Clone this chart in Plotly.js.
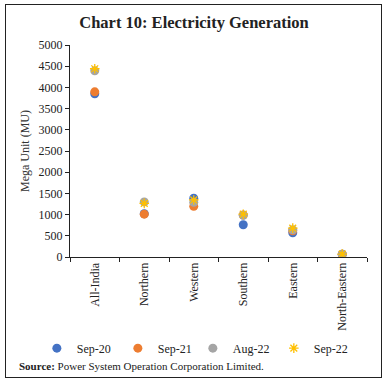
<!DOCTYPE html>
<html><head><meta charset="utf-8">
<script src="https://cdn.plot.ly/plotly-3.0.1.min.js"></script>
<style>
html,body{margin:0;padding:0;background:#fff;}
#wrap{position:relative;width:388px;height:386px;}
#chart{width:388px;height:386px;}
#frame{position:absolute;left:5px;top:4px;width:375px;height:372px;border:1.5px solid #222;pointer-events:none;}
</style></head>
<body>
<div id="wrap"><div id="chart"></div><div id="frame"></div></div>
<script>
const categories = ["All-India","Northern","Western","Southern","Eastern","North-Eastern"];
const sep20 = [3850, 1020, 1385, 760, 570, 62];
const sep21 = [3895, 1010, 1195, 990, 620, 64];
const aug22 = [4390, 1300, 1290, 985, 640, 66];
const sep22 = [4440, 1265, 1345, 1010, 680, 68];
const yTicks = [0,500,1000,1500,2000,2500,3000,3500,4000,4500,5000];

const F = "Liberation Serif, Times New Roman, serif";
function tr(name, y, color, symbol, legend){
  const t = {type:'scatter', mode:'markers', name:name, x:categories, y:y, legend:legend,
    marker:{color:color, size:9, symbol:symbol}};
  if (symbol === 'asterisk-open') { t.marker.size = 8; t.marker.line = {color:color, width:1.3}; }
  return t;
}
const data = [
  tr('Sep-20', sep20, '#4472C4', 'circle', 'legend'),
  tr('Sep-21', sep21, '#ED7D31', 'circle', 'legend'),
  tr('Aug-22', aug22, '#A5A5A5', 'circle', 'legend2'),
  tr('Sep-22', sep22, '#FFC000', 'asterisk-open', 'legend2')
];
const legBase = {orientation:'h', xref:'container', yref:'container', y:0.098, yanchor:'middle', xanchor:'left',
  font:{family:F, size:12, color:'#222'}, itemwidth:30, entrywidth:36, entrywidthmode:'pixels',
  bgcolor:'rgba(0,0,0,0)'};
const layout = {
  width:388, height:386,
  margin:{l:70, r:21, t:45, b:129, pad:0},
  paper_bgcolor:'#fff', plot_bgcolor:'#fff',
  font:{family:F, size:12, color:'#222'},
  title:{text:'<b>Chart 10: Electricity Generation</b>', x:0.5, xanchor:'center', y:0.942, yanchor:'middle',
    font:{family:F, size:16.5, color:'#222'}},
  showlegend:true,
  legend:Object.assign({}, legBase, {x:0.095}),
  legend2:Object.assign({}, legBase, {x:0.497}),
  xaxis:{type:'category', range:[-0.5,5.5], showline:true, linecolor:'#222', linewidth:1,
    ticks:'outside', tickson:'boundaries', ticklen:4, tickcolor:'#222', tickangle:-90,
    showgrid:false, zeroline:false, tickfont:{family:F, size:12, color:'#222'}},
  yaxis:{range:[0,5000], tickvals:yTicks, ticktext:yTicks.map(String), showline:true, linecolor:'#222', linewidth:1,
    ticks:'outside', ticklen:4, tickcolor:'#222', showgrid:false, zeroline:false,
    tickfont:{family:F, size:12, color:'#222'},
    title:{text:'Mega Unit (MU)', font:{family:F, size:12, color:'#333'}, standoff:6}},
  annotations:[{xref:'paper', yref:'paper', x:-0.18, y:-0.515, xanchor:'left', yanchor:'middle', showarrow:false,
    text:'<b>Source:</b> Power System Operation Corporation Limited.', font:{family:F, size:11, color:'#222'}}]
};
Plotly.newPlot('chart', data, layout, {displayModeBar:false, staticPlot:true});
</script>
</body></html>
